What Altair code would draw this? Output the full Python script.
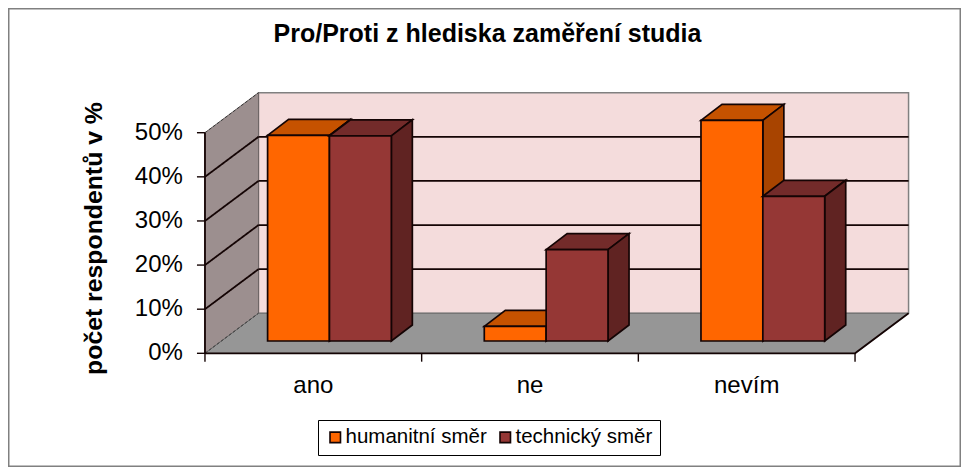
import altair as alt
import pandas as pd

# ---- chart values ----
categories = ["ano", "ne", "nevím"]
series = ["humanitní směr", "technický směr"]
humanitni = [46.6, 3.3, 50.0]
technicky = [46.5, 20.7, 32.8]
y_ticks = [0, 10, 20, 30, 40, 50]
y_labels = ["0%", "10%", "20%", "30%", "40%", "50%"]
title_text = "Pro/Proti z hlediska zaměření studia"
y_title = "počet respondentů v %"

front_colors = ["#FF6600", "#953735"]
top_colors = ["#C65200", "#732B2A"]
side_colors = ["#A84400", "#602322"]

INK = "#140404"
FONT = "Liberation Sans"

# scales: x in category units, y in percent
X_DOM = [-0.909, 3.489]
Y_DOM = [-25.77, 78.27]
W, H = 953, 459
xs = alt.Scale(domain=X_DOM, range=[0, W], nice=False, zero=False)
ys = alt.Scale(domain=Y_DOM, range=[H, 0], nice=False, zero=False)

# depth of the room and of the bars, in the same units
WALL_DX, WALL_DY = 0.247, 9.07
BAR_DX, BAR_DY = 0.097, 3.63
BAR_BASE = 2.79
BAR_START, BAR_W = 0.289, 0.2855
N = len(categories)
TOP = max(y_ticks)


def enc(m, d, two=True):
    e = dict(x=alt.X("x:Q", scale=xs, axis=None), y=alt.Y("y:Q", scale=ys, axis=None))
    if two:
        e["y2"] = alt.Y2("y2:Q")
    return alt.Chart(pd.DataFrame(d)).mark_area(**m).encode(**e)


def flat_face(x0, x1, y, dx, dy, **m):
    """Parallelogram with horizontal edges (floor, bar top)."""
    return enc(dict(interpolate="linear", **m), [
        dict(x=x0, y=y, y2=y),
        dict(x=x0 + dx, y=y + dy, y2=y),
        dict(x=x1, y=y + dy, y2=y),
        dict(x=x1 + dx, y=y + dy, y2=y + dy),
    ])


def side_face(x, low, high, dx, dy, **m):
    """Parallelogram with vertical edges (left wall, bar side)."""
    return enc(dict(interpolate="linear", **m), [
        dict(x=x, y=high, y2=low),
        dict(x=x + dx, y=high + dy, y2=low + dy),
    ])


layers = []

# back wall
layers.append(
    alt.Chart(pd.DataFrame([dict(x=WALL_DX, x2=N + WALL_DX, y=WALL_DY, y2=TOP + WALL_DY)]))
    .mark_rect(fill="#F4DCDC", stroke="#808080", strokeWidth=1.5)
    .encode(x=alt.X("x:Q", scale=xs, axis=None), x2="x2:Q",
            y=alt.Y("y:Q", scale=ys, axis=None), y2="y2:Q")
)
# left wall and floor
layers.append(side_face(0, 0, TOP, WALL_DX, WALL_DY, fill="#9C8F8F", stroke="#6E6666", strokeWidth=1))
layers.append(flat_face(0, N, 0, WALL_DX, WALL_DY, fill="#969696", stroke="#6E6E6E", strokeWidth=1))

# gridlines on the back wall and on the left wall
grid = [t for t in y_ticks if 0 < t < TOP]
layers.append(
    alt.Chart(pd.DataFrame([dict(x=WALL_DX, x2=N + WALL_DX, y=t + WALL_DY) for t in grid]))
    .mark_rule(color=INK, strokeWidth=1.8)
    .encode(x=alt.X("x:Q", scale=xs, axis=None), x2="x2:Q", y=alt.Y("y:Q", scale=ys, axis=None))
)
for t in y_ticks:
    inner = t in grid
    layers.append(
        alt.Chart(pd.DataFrame([dict(x=0, y=t), dict(x=WALL_DX, y=t + WALL_DY)]))
        .mark_line(color=INK if inner else "#3A3A3A", strokeWidth=1.8 if inner else 1,
                   strokeDash=[1, 0] if inner else [3, 2])
        .encode(x=alt.X("x:Q", scale=xs, axis=None), y=alt.Y("y:Q", scale=ys, axis=None))
    )
# front edges of the floor
layers.append(
    alt.Chart(pd.DataFrame([dict(x=0, y=0), dict(x=N, y=0), dict(x=N + WALL_DX, y=WALL_DY)]))
    .mark_line(color=INK, strokeWidth=1.8)
    .encode(x=alt.X("x:Q", scale=xs, axis=None), y=alt.Y("y:Q", scale=ys, axis=None))
)
# value axis line and ticks, category ticks
layers.append(
    alt.Chart(pd.DataFrame([dict(x=0, y=0), dict(x=0, y=TOP)]))
    .mark_line(color=INK, strokeWidth=1.8)
    .encode(x=alt.X("x:Q", scale=xs, axis=None), y=alt.Y("y:Q", scale=ys, axis=None))
)
layers.append(
    alt.Chart(pd.DataFrame([dict(x=-0.037, x2=0, y=t) for t in y_ticks]))
    .mark_rule(color=INK, strokeWidth=1.4)
    .encode(x=alt.X("x:Q", scale=xs, axis=None), x2="x2:Q", y=alt.Y("y:Q", scale=ys, axis=None))
)
layers.append(
    alt.Chart(pd.DataFrame([dict(x=i, y=0, y2=-1.9) for i in range(N + 1)]))
    .mark_rule(color=INK, strokeWidth=1.4)
    .encode(x=alt.X("x:Q", scale=xs, axis=None), y=alt.Y("y:Q", scale=ys, axis=None), y2="y2:Q")
)

# bars, back to front
color_scale = alt.Scale(domain=series, range=front_colors)
legend = alt.Legend(
    title=None, orient="none", legendX=310, legendY=412, direction="horizontal", columns=2,
    symbolType="square", symbolSize=110, symbolStrokeWidth=1.6, symbolStrokeColor=INK,
    labelFont=FONT, labelFontSize=20.5, labelColor="black", labelLimit=220,
    strokeColor="black", fillColor="white", padding=7, columnPadding=8, symbolOffset=0,
    labelOffset=0,
)
for c in range(N):
    for s, vals in enumerate([humanitni, technicky]):
        x0 = c + BAR_START + s * BAR_W
        x1 = x0 + BAR_W
        low = BAR_BASE
        high = BAR_BASE + vals[c]
        line = dict(stroke=INK, strokeWidth=1.7)
        layers.append(flat_face(x0, x1, high, BAR_DX, BAR_DY, fill=top_colors[s], **line))
        layers.append(side_face(x1, low, high, BAR_DX, BAR_DY, fill=side_colors[s], **line))
        layers.append(
            alt.Chart(pd.DataFrame([dict(x=x0, x2=x1, y=low, y2=high, směr=series[s])]))
            .mark_bar(**line)
            .encode(x=alt.X("x:Q", scale=xs, axis=None), x2="x2:Q",
                    y=alt.Y("y:Q", scale=ys, axis=None), y2="y2:Q",
                    color=alt.Color("směr:N", scale=color_scale, legend=legend))
        )

# tick and category labels
layers.append(
    alt.Chart(pd.DataFrame(dict(y=y_ticks, t=y_labels, x=[-0.102] * len(y_ticks))))
    .mark_text(align="right", baseline="middle", font=FONT, fontSize=24, color="black")
    .encode(x=alt.X("x:Q", scale=xs, axis=None), y=alt.Y("y:Q", scale=ys, axis=None), text="t:N")
)
layers.append(
    alt.Chart(pd.DataFrame(dict(x=[i + 0.5 for i in range(N)], t=categories, y=[-7.3] * N)))
    .mark_text(align="center", baseline="middle", font=FONT, fontSize=24, color="black")
    .encode(x=alt.X("x:Q", scale=xs, axis=None), y=alt.Y("y:Q", scale=ys, axis=None), text="t:N")
)
# titles
layers.append(
    alt.Chart(pd.DataFrame(dict(t=[title_text])))
    .mark_text(align="center", baseline="middle", font=FONT, fontSize=25, fontWeight="bold", color="black")
    .encode(x=alt.value(479.5), y=alt.value(26), text="t:N")
)
layers.append(
    alt.Chart(pd.DataFrame(dict(t=[y_title])))
    .mark_text(align="center", baseline="middle", font=FONT, fontSize=24.8, color="black", angle=270, fontWeight="bold")
    .encode(x=alt.value(87), y=alt.value(230.5), text="t:N")
)
# outer frame
layers.append(
    alt.Chart(pd.DataFrame([dict(x=X_DOM[0], x2=X_DOM[1], y=Y_DOM[0], y2=Y_DOM[1])]))
    .mark_rect(fill=None, stroke="#808080", strokeWidth=3)
    .encode(x=alt.X("x:Q", scale=xs, axis=None), x2="x2:Q",
            y=alt.Y("y:Q", scale=ys, axis=None), y2="y2:Q")
)

chart = (
    alt.layer(*layers)
    .resolve_scale(color="shared")
    .properties(width=W, height=H, padding=0, autosize=alt.AutoSizeParams(type="none"),
                background="white")
    .configure_view(stroke=None)
)
chart.save("out.html", embed_options={"renderer": "svg", "actions": False})
